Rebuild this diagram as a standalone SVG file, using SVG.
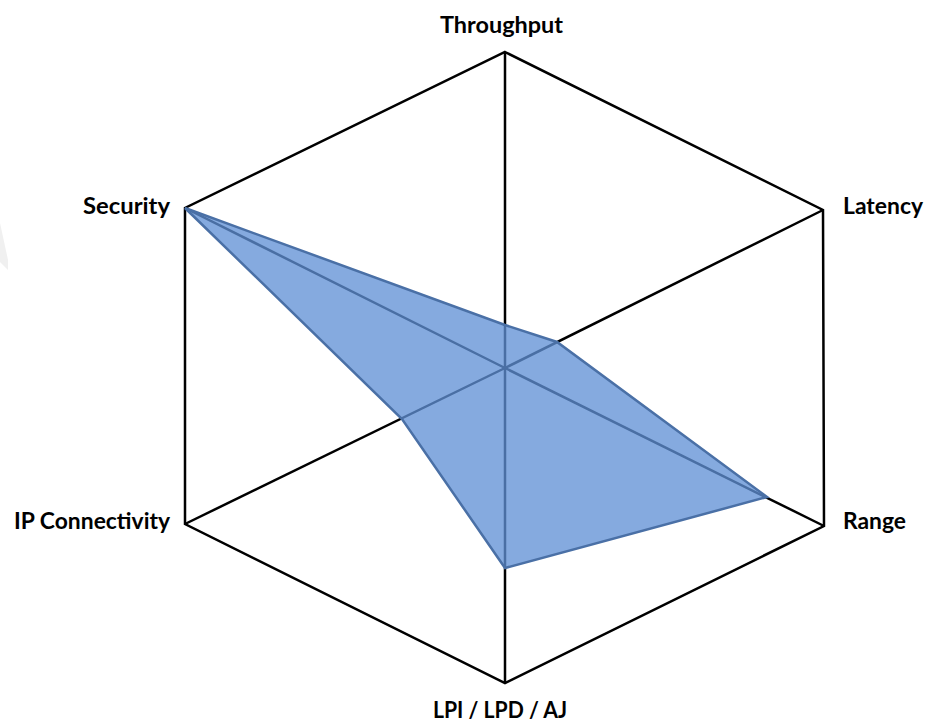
<svg xmlns="http://www.w3.org/2000/svg" width="926" height="722" viewBox="0 0 926 722">
  <style>
    .axis { stroke: #000; stroke-width: 2.5; fill: none; stroke-linejoin: miter; }
    .lbl { font-family: Lato, "Open Sans", "Liberation Sans", sans-serif; font-weight: bold; font-size: 23px; fill: #000; }
    .data { fill: #6091D5; fill-opacity: 0.77; stroke: #4A70A6; stroke-width: 2.5; stroke-linejoin: miter; }
  </style>
  <rect width="926" height="722" fill="#fff"/>
  <polygon points="0,223 8,260 8,270 0,262" fill="#f0f0f0"/>
  <g id="grid">
    <polygon class="axis" points="505,52 823,210 824,526 505,683 185,524 185,208"/>
  </g>
  <g id="connectors">
    <line class="axis" x1="505" y1="368" x2="505" y2="52"/>
    <line class="axis" x1="505" y1="368" x2="823" y2="210"/>
    <line class="axis" x1="505" y1="368" x2="824" y2="526"/>
    <line class="axis" x1="505" y1="368" x2="505" y2="683"/>
    <line class="axis" x1="505" y1="368" x2="185" y2="524"/>
    <line class="axis" x1="505" y1="368" x2="185" y2="208"/>
  </g>
  <g id="series">
    <polygon class="data" points="505,325 557,342 767,497 505,568 402,419 185,208"/>
  </g>
  <g id="label-throughput"><text class="lbl" x="440" y="33" textLength="123" lengthAdjust="spacingAndGlyphs">Throughput</text></g>
  <g id="label-latency"><text class="lbl" x="843" y="214" textLength="80" lengthAdjust="spacingAndGlyphs">Latency</text></g>
  <g id="label-range"><text class="lbl" x="843" y="529" textLength="63" lengthAdjust="spacingAndGlyphs">Range</text></g>
  <g id="label-lpi"><text class="lbl" x="433" y="718" textLength="134" lengthAdjust="spacingAndGlyphs">LPI / LPD / AJ</text></g>
  <g id="label-ip"><text class="lbl" x="14" y="529" textLength="156" lengthAdjust="spacingAndGlyphs">IP Connectivity</text></g>
  <g id="label-security"><text class="lbl" x="83" y="214" textLength="87" lengthAdjust="spacingAndGlyphs">Security</text></g>
</svg>
